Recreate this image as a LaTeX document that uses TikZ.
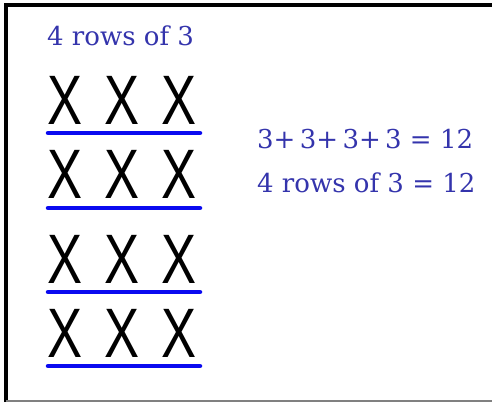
\documentclass[tikz,border=0pt]{standalone}
\usepackage{fontspec}
\setmainfont{DejaVu Serif}
\newfontfamily\xfont{Liberation Sans}
\definecolor{textblue}{RGB}{52,52,172}
\definecolor{lineblue}{RGB}{10,10,240}
\tikzset{
    label/.style={font=\fontsize{26}{30}\selectfont, text=textblue,
                  inner sep=0pt, anchor=base west},
    xrow/.style={font=\xfont\fontsize{70}{70}\selectfont, xscale=0.75,
                 inner sep=0pt, anchor=base},
    underline/.style={draw=lineblue, line width=4.5pt, line cap=round},
    frame/.style={line width=4pt},
}
\newcommand{\xxx}{X\hspace{29pt}X\hspace{29pt}X}

\begin{document}
\begin{tikzpicture}[x=1pt, y=-1pt]
    \path[use as bounding box] (0,0) rectangle (492,402);

    % frame, open on the right
    \draw[frame] (6,402) -- (6,5) -- (492,5);
    \draw[gray, line width=1.5pt] (6,401) -- (492,401);

    \node[label] (title) at (47,45) {4 rows of 3};

    \node[xrow] (row1) at (122,124) {\xxx};
    \node[xrow] (row2) at (122,198) {\xxx};
    \node[xrow] (row3) at (122,283) {\xxx};
    \node[xrow] (row4) at (122,357) {\xxx};

    \draw[underline] (48,133) -- (200,133);
    \draw[underline] (48,208) -- (200,208);
    \draw[underline] (48,292) -- (200,292);
    \draw[underline] (48,366) -- (200,366);

    \node[label] (sum) at (257,148) {3+\,3+\,3+\,3 = 12};
    \node[label] (product) at (257,192) {4 rows of 3 = 12};

\end{tikzpicture}
\end{document}
